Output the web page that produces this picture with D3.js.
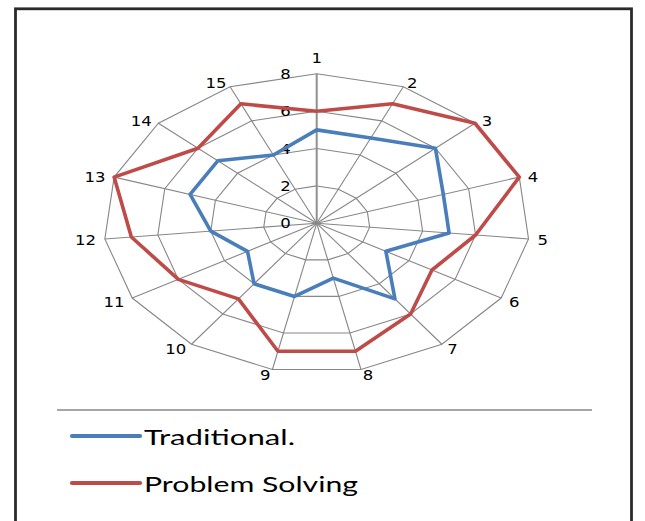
<!DOCTYPE html>
<html>
<head>
<meta charset="utf-8">
<script src="https://cdn.jsdelivr.net/npm/d3@7"></script>
<style>
html,body{margin:0;padding:0;background:#fff;}
svg{display:block;}
</style>
</head>
<body>
<svg id="chart" width="645" height="521"></svg>
<script>
// ---- data ----
const categories = ["1","2","3","4","5","6","7","8","9","10","11","12","13","14","15"];
const traditional = [5,5,6,5,5,3,5,3,4,4,3,4,5,5,4];
const problemSolving = [6,7,8,8,6,5,6,7,7,5,6,7,8,6,7];
const tickValues = [0,2,4,6,8];
const seriesNames = ["Traditional.","Problem Solving"];
const seriesColors = ["#4a7ebb","#be4b48"];

const svg = d3.select("#chart");
const cx = 316.7, cy = 223.3;
const rX = d3.scaleLinear().domain([0,8]).range([0,213]);
const rY = d3.scaleLinear().domain([0,8]).range([0,149.5]);
const angle = d3.scalePoint().domain(categories).range([0, 2*Math.PI*(1-1/categories.length)]);

function pt(cat, v){
  const a = angle(cat);
  return [cx + rX(v)*Math.sin(a), cy - rY(v)*Math.cos(a)];
}

// frame
svg.append("rect").attr("x",15.5).attr("y",8.8).attr("width",616).attr("height",540)
  .attr("fill","#fff").attr("stroke","#2b2b2b").attr("stroke-width",2.8);

const grid = svg.append("g");
// rings
tickValues.filter(v=>v>0).forEach(v=>{
  grid.append("path")
    .attr("d", d3.line()(categories.map(c=>pt(c,v))) + "Z")
    .attr("fill","none").attr("stroke","#878787").attr("stroke-width",1.1);
});
// spokes
categories.forEach((c,i)=>{
  const p = pt(c,8);
  grid.append("line").attr("x1",cx).attr("y1",cy).attr("x2",p[0]).attr("y2",p[1])
    .attr("stroke", i===0 ? "#8f8f8f" : "#878787").attr("stroke-width", i===0 ? 2 : 1.1);
});

// value tick labels
tickValues.forEach(v=>{
  const y = cy - rY(v);
  svg.append("text")
    .attr("transform",`translate(${cx-26},${y}) scale(1.18,1)`)
    .attr("text-anchor","end").attr("dy","0.36em")
    .attr("font-family","DejaVu Sans").attr("font-size",14).attr("fill","#000")
    .text(v);
});

// category labels
categories.forEach(c=>{
  const a = angle(c);
  const s = Math.sin(a), co = Math.cos(a);
  const p = pt(c,8);
  let x, y, anchor;
  if (Math.abs(s) < 0.05) {
    anchor = "middle"; x = p[0]; y = p[1] - 16;
  } else {
    anchor = s > 0 ? "start" : "end";
    x = p[0] + 9*s;
    y = p[1] - 5*co + 1;
  }
  svg.append("text")
    .attr("transform",`translate(${x},${y}) scale(1.18,1)`)
    .attr("text-anchor",anchor).attr("dy","0.36em")
    .attr("font-family","DejaVu Sans").attr("font-size",14).attr("fill","#000")
    .text(c);
});

// series
[traditional, problemSolving].forEach((vals,k)=>{
  svg.append("path")
    .attr("d", d3.line()(categories.map((c,i)=>pt(c,vals[i]))) + "Z")
    .attr("fill","none").attr("stroke",seriesColors[k]).attr("stroke-width",3.6)
    .attr("stroke-linejoin","round");
});

// legend separator
svg.append("line").attr("x1",57).attr("x2",592).attr("y1",410).attr("y2",410)
  .attr("stroke","#a6a6a6").attr("stroke-width",2);

const legY = [436, 483];
const legW = [151, 214];
seriesNames.forEach((n,k)=>{
  svg.append("line").attr("x1",72).attr("x2",140).attr("y1",legY[k]).attr("y2",legY[k])
    .attr("stroke",seriesColors[k]).attr("stroke-width",4.2).attr("stroke-linecap","round");
  svg.append("text").attr("x",144).attr("y",legY[k]+8.5)
    .attr("font-family","Lato").attr("font-size",22).attr("fill","#000")
    .attr("textLength",legW[k]).attr("lengthAdjust","spacingAndGlyphs")
    .text(n);
});
</script>
</body>
</html>
